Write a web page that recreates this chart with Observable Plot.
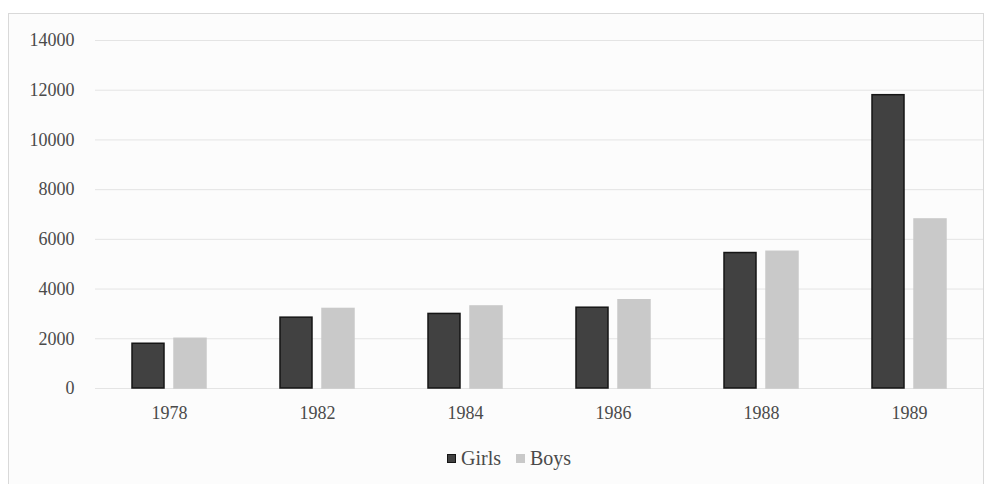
<!DOCTYPE html>
<html>
<head>
<meta charset="utf-8">
<script src="https://cdn.jsdelivr.net/npm/d3@7"></script>
<script src="https://cdn.jsdelivr.net/npm/@observablehq/plot@0.6"></script>
<style>
  html, body { margin: 0; padding: 0; background: #ffffff; }
  #wrap { position: relative; width: 995px; height: 484px; overflow: hidden; }
  #frame { position: absolute; left: 8px; top: 13px; width: 976px; height: 480px; border: 1px solid #d9d9d9; background: #fcfcfc; box-sizing: border-box; }
  .layer { position: absolute; left: 0; top: 0; }
  #legend { position: absolute; left: 447px; top: 446px; height: 24px; font-family: "Liberation Serif", serif; font-size: 20px; color: #4a4a4a; display: flex; align-items: center; }
  .sw { display: inline-block; width: 9px; height: 9px; margin-right: 5px; box-sizing: border-box; }
  .item { display: flex; align-items: center; margin-right: 15px; }
</style>
</head>
<body>
<div id="wrap">
  <div id="frame"></div>
  <div id="grid" class="layer"></div>
  <div id="chart" class="layer"></div>
  <div id="legend"></div>
</div>
<script>
const years = ["1978", "1982", "1984", "1986", "1988", "1989"];
const series = ["Girls", "Boys"];
const girls = [1800, 2850, 3000, 3250, 5450, 11800];
const boys = [2000, 3200, 3300, 3550, 5500, 6800];
const yTicks = [0, 2000, 4000, 6000, 8000, 10000, 12000, 14000];
const colors = ["#414141", "#c9c9c9"];
const strokes = ["#151515", "#c9c9c9"];

const data = [];
years.forEach((yr, i) => {
  data.push({year: yr, series: "Girls", value: girls[i]});
  data.push({year: yr, series: "Boys", value: boys[i]});
});

const common = {
  width: 995,
  height: 430,
  marginTop: 40,
  marginLeft: 95,
  marginRight: 12,
  marginBottom: 42,
  style: {fontFamily: "Liberation Serif, serif", fontSize: "18px", color: "#4a4a4a", background: "transparent"},
  y: {domain: [0, 14000], label: null}
};

const gridPlot = Plot.plot({
  ...common,
  x: {domain: years, axis: null},
  marks: [
    Plot.gridY(yTicks, {stroke: "#e4e4e4", strokeOpacity: 1, strokeWidth: 1}),
    Plot.axisY(yTicks, {tickSize: 0, tickPadding: 21, tickFormat: d => String(d), fill: "#4a4a4a", fontSize: 18, label: null})
  ]
});
document.getElementById("grid").appendChild(gridPlot);

const plot = Plot.plot({
  ...common,
  fx: {domain: years, paddingInner: 0.5, paddingOuter: 0.25, label: null, axis: null},
  x: {domain: series, paddingInner: 0.24, paddingOuter: 0, axis: null},
  y: {domain: [0, 14000], label: null, axis: null},
  color: {domain: series, range: colors},
  marks: [
    Plot.axisFx({anchor: "bottom", tickSize: 0, tickPadding: 18, fontSize: 18, fill: "#4a4a4a", label: null}),
    Plot.barY(data, {fx: "year", x: "series", y: "value", fill: "series", stroke: d => d.series === "Girls" ? strokes[0] : strokes[1], strokeWidth: 1.5})
  ]
});
document.getElementById("chart").appendChild(plot);

const leg = document.getElementById("legend");
series.forEach((s, i) => {
  const it = document.createElement("div");
  it.className = "item";
  const sw = document.createElement("span");
  sw.className = "sw";
  sw.style.background = colors[i];
  sw.style.border = i === 0 ? "1px solid #151515" : "none";
  it.appendChild(sw);
  const t = document.createElement("span");
  t.textContent = s;
  it.appendChild(t);
  leg.appendChild(it);
});
</script>
</body>
</html>
